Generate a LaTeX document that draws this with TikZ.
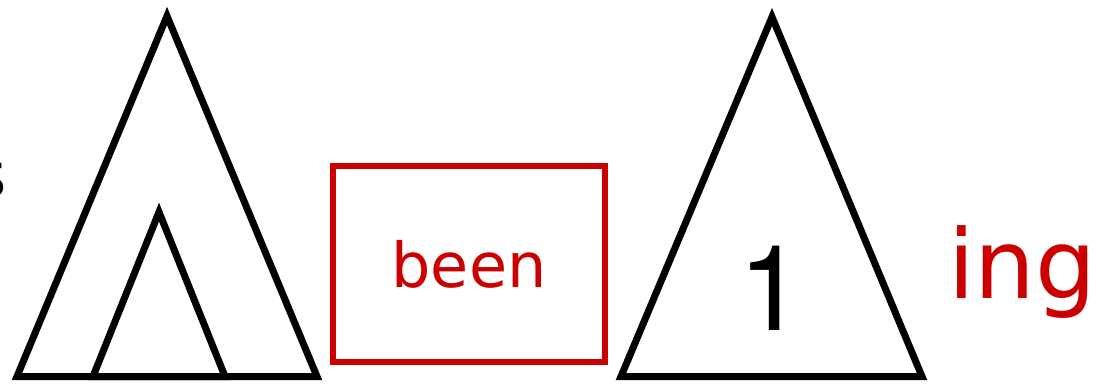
\documentclass[tikz,border=0pt]{standalone}
\usepackage{fontspec}
\setmainfont{DejaVu Sans}
\setsansfont{TeX Gyre Heros}
\definecolor{myred}{HTML}{CC0000}
\tikzset{
  tri/.style={draw=black, line width=7pt, line join=miter, miter limit=10},
  redbox/.style={draw=myred, line width=6pt},
  redtxt/.style={text=myred, inner sep=0pt, anchor=base},
}
\begin{document}
\begin{tikzpicture}[x=1pt,y=-1pt]
\useasboundingbox (0,0) rectangle (1098,386);
% clipped character at left edge
\node[inner sep=0pt, anchor=base west, font=\fontsize{64}{70}\selectfont] (cut) at (-27,197) {s};
% big triangle
\draw[tri] (167,16) -- (317,376.5) -- (17,376.5) -- cycle;
% small inner triangle
\draw[tri] (159,212) -- (225,376.5) -- (93,376.5) -- cycle;
% red box
\draw[redbox] (333,166) rectangle (605,362);
\node[redtxt, font=\fontsize{62}{68}\selectfont] (been) at (469,287) {been};
% right triangle
\draw[tri] (772,17) -- (922,376.5) -- (621,376.5) -- cycle;
\node[inner sep=0pt, anchor=base, font=\sffamily\fontsize{119}{125}\selectfont] (one) at (772,330) {1};
% ing
\node[text=myred, inner sep=0pt, anchor=base west, font=\fontsize{96}{100}\selectfont] (ing) at (948,298) {ing};
\end{tikzpicture}
\end{document}
